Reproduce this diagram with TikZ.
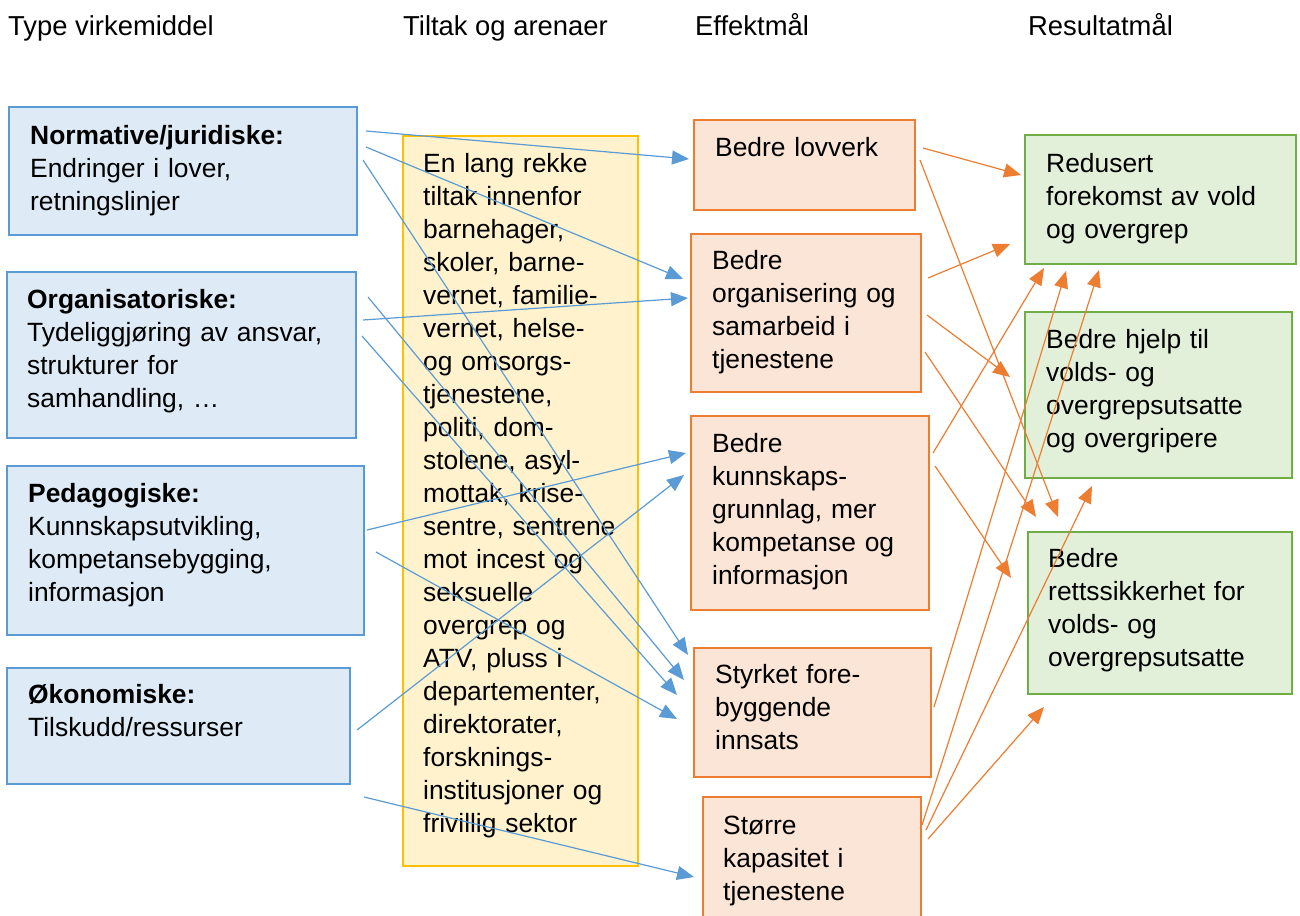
\documentclass[tikz,border=0pt]{standalone}
\usepackage{fontspec}
\setmainfont{Liberation Sans}
\usetikzlibrary{arrows.meta}
\definecolor{blueline}{HTML}{5B9BD5}
\definecolor{bluefill}{HTML}{DEEBF7}
\definecolor{yelline}{HTML}{FFC000}
\definecolor{yelfill}{HTML}{FFF2CC}
\definecolor{orline}{HTML}{ED7D31}
\definecolor{orfill}{HTML}{FBE5D6}
\definecolor{grline}{HTML}{70AD47}
\definecolor{grfill}{HTML}{E2F0D9}
\begin{document}
\begin{tikzpicture}[x=1pt,y=-1pt,
  boxbase/.style={line width=2.4pt, inner sep=0pt, anchor=north west},
  bluebox/.style={boxbase, draw=blueline, fill=bluefill},
  yelbox/.style={boxbase, draw=yelline, fill=yelfill},
  orbox/.style={boxbase, draw=orline, fill=orfill},
  grbox/.style={boxbase, draw=grline, fill=grfill},
  txt/.style={anchor=north west, inner sep=0pt, text width=340pt, align=left,
    font=\fontsize{26.4}{33}\selectfont},
  headtxt/.style={anchor=base west, inner sep=0pt, font=\fontsize{27.4}{33}\selectfont},
  barrow/.style={draw=blueline, line width=1.2pt, -{Triangle[length=17pt,width=14pt]}},
  oarrow/.style={draw=orline, line width=1.2pt, -{Triangle[length=17pt,width=14pt]}}
]
\useasboundingbox (0,0) rectangle (1300,915);
\fill[white] (0,0) rectangle (1300,915);
\clip (0,0) rectangle (1300,915);

% headers
\node[headtxt] (h1) at (8,36) {Type virkemiddel};
\node[headtxt] (h2) at (403,36) {Tiltak og arenaer};
\node[headtxt] (h3) at (695,36) {Effektmål};
\node[headtxt] (h4) at (1028,36) {Resultatmål};

% blue boxes
\node[bluebox, minimum width=348pt, minimum height=128pt] (B1) at (8,106) {};
\node[bluebox, minimum width=349pt, minimum height=166pt] (B2) at (6,271) {};
\node[bluebox, minimum width=357pt, minimum height=169pt] (B3) at (6,465) {};
\node[bluebox, minimum width=343pt, minimum height=116pt] (B4) at (6,667) {};
% yellow
\node[yelbox, minimum width=235pt, minimum height=730pt] (Y) at (402,135) {};
% orange
\node[orbox, minimum width=221pt, minimum height=90pt] (O1) at (693,119) {};
\node[orbox, minimum width=230pt, minimum height=158pt] (O2) at (690,233) {};
\node[orbox, minimum width=238pt, minimum height=194pt] (O3) at (690,415) {};
\node[orbox, minimum width=237pt, minimum height=129pt] (O4) at (693,647) {};
\node[orbox, minimum width=218pt, minimum height=140pt] (O5) at (702,796) {};
% green
\node[grbox, minimum width=271pt, minimum height=129pt] (G1) at (1024,134) {};
\node[grbox, minimum width=267pt, minimum height=166pt] (G2) at (1024,311) {};
\node[grbox, minimum width=264pt, minimum height=162pt] (G3) at (1027,531) {};

% texts
\node[txt] (B1t) at (30,121.4) {\strut\textbf{Normative/juridiske:}\\Endringer i lover,\\retningslinjer};
\node[txt] (B2t) at (27,285.4) {\strut\textbf{Organisatoriske:}\\Tydeliggjøring av ansvar,\\strukturer for\\samhandling, …};
\node[txt] (B3t) at (28,479.4) {\strut\textbf{Pedagogiske:}\\Kunnskapsutvikling,\\kompetansebygging,\\informasjon};
\node[txt] (B4t) at (28,680.4) {\strut\textbf{Økonomiske:}\\Tilskudd/ressurser};
\node[txt] (Yt) at (423,149.4) {\strut En lang rekke\\tiltak innenfor\\barnehager,\\skoler, barne-\\vernet, familie-\\vernet, helse-\\og omsorgs-\\tjenestene,\\politi, dom-\\stolene, asyl-\\mottak, krise-\\sentre, sentrene\\mot incest og\\seksuelle\\overgrep og\\ATV, pluss i\\departementer,\\direktorater,\\forsknings-\\institusjoner og\\frivillig sektor};
\node[txt] (O1t) at (715,133.4) {\strut Bedre lovverk};
\node[txt] (O2t) at (712,246.4) {\strut Bedre\\organisering og\\samarbeid i\\tjenestene};
\node[txt] (O3t) at (712,429.4) {\strut Bedre\\kunnskaps-\\grunnlag, mer\\kompetanse og\\informasjon};
\node[txt] (O4t) at (715,660.4) {\strut Styrket fore-\\byggende\\innsats};
\node[txt] (O5t) at (723,811.4) {\strut Større\\kapasitet i\\tjenestene};
\node[txt] (G1t) at (1046,148.9) {\strut Redusert\\forekomst av vold\\og overgrep};
\node[txt] (G2t) at (1046,325.4) {\strut Bedre hjelp til\\volds- og\\overgrepsutsatte\\og overgripere};
\node[txt] (G3t) at (1048,544.4) {\strut Bedre\\rettssikkerhet for\\volds- og\\overgrepsutsatte};

% connector end points
\coordinate (s1) at (366,131);  \coordinate (t1) at (689,159);
\coordinate (s2) at (366,147);  \coordinate (t2) at (683,279);
\coordinate (s3) at (363,160);  \coordinate (t3) at (688,655);
\coordinate (s4) at (368,297);  \coordinate (t4) at (684,680);
\coordinate (s5) at (362,336);  \coordinate (t5) at (677,695);
\coordinate (s6) at (376,552);  \coordinate (t6) at (677,719);
\coordinate (s7) at (363,320);  \coordinate (t7) at (688,298);
\coordinate (s8) at (367,530);  \coordinate (t8) at (686,453);
\coordinate (s9) at (357,730);  \coordinate (t9) at (684,475);
\coordinate (s10) at (364,797); \coordinate (t10) at (694,877);

\coordinate (oa) at (923,148);  \coordinate (ea) at (1021,175);
\coordinate (ob) at (920,160);  \coordinate (eb) at (1058,517);
\coordinate (oc) at (928,278);  \coordinate (ec) at (1010,244);
\coordinate (od) at (927,315);  \coordinate (ed) at (1010,377);
\coordinate (oe) at (925,352);  \coordinate (ee) at (1036,517);
\coordinate (of) at (933,453);  \coordinate (ef) at (1044,268);
\coordinate (og) at (935,466);  \coordinate (eg) at (1011,578);
\coordinate (oh) at (934,707);  \coordinate (eh) at (1066,271);
\coordinate (oi) at (922,825);  \coordinate (ei) at (1099,270);
\coordinate (oj) at (926,830);  \coordinate (ej) at (1092,486);
\coordinate (ok) at (928,839);  \coordinate (ek) at (1044,707);

% blue connectors
\foreach \i in {1,...,10} {\draw[barrow] (s\i) -- (t\i);}
% orange connectors
\foreach \i in {a,b,c,d,e,f,g,h,i,j,k} {\draw[oarrow] (o\i) -- (e\i);}
\end{tikzpicture}
\end{document}
